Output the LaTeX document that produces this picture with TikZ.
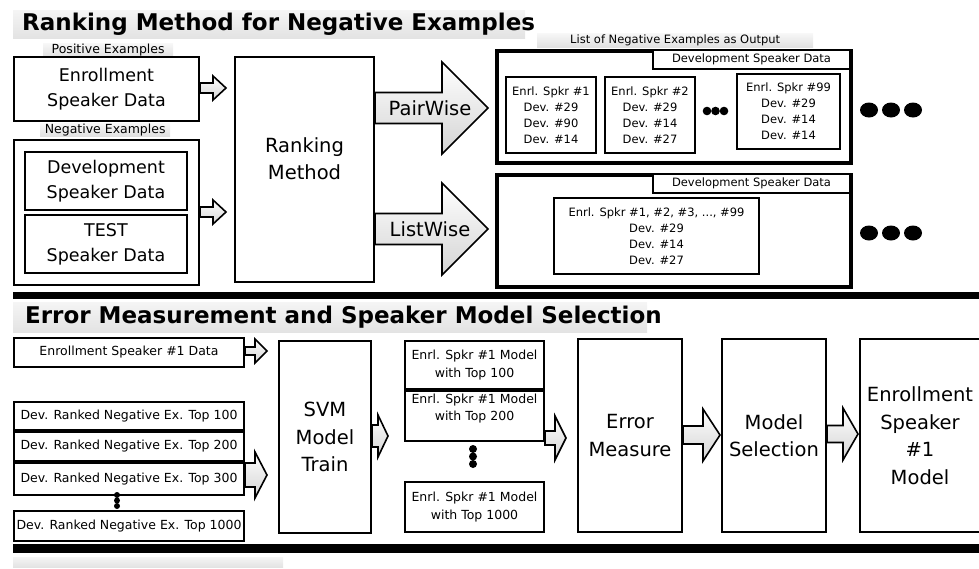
\documentclass[tikz,border=0pt]{standalone}
\usepackage{fontspec}
\setmainfont{DejaVu Sans}
\usetikzlibrary{calc,positioning}

\newcommand{\fTitle}{\fontsize{23}{28}\selectfont\bfseries}
\newcommand{\fBig}{\fontsize{19.5}{27.5}\selectfont}
\newcommand{\fMid}{\fontsize{17.5}{25}\selectfont}
\newcommand{\fLab}{\fontsize{12.5}{17.5}\selectfont}
\newcommand{\fSmall}{\fontsize{11.5}{16}\selectfont}

% block arrow: from, to, y, shaft half, head half, head length, gap before target
\newcommand{\fatarrow}[7]{%
  \path[fatarrow] let \p1=(#1.east), \p2=(#2.west), \p3=(0,#3) in
    (\x1,{\y3+#4pt}) -- ({\x2-#7pt-#6pt},{\y3+#4pt}) -- ({\x2-#7pt-#6pt},{\y3+#5pt})
    -- ({\x2-#7pt},\y3) -- ({\x2-#7pt-#6pt},{\y3-#5pt}) -- ({\x2-#7pt-#6pt},{\y3-#4pt})
    -- (\x1,{\y3-#4pt}) -- cycle;}

\begin{document}
\begin{tikzpicture}[x=1pt, y=-1pt, line join=miter]
    \tikzstyle{box}=[draw, line width=2pt, inner sep=0pt, align=center, anchor=north west]
    \tikzstyle{thickbox}=[box, line width=3.5pt]
    \tikzstyle{tag}=[anchor=north west, inner sep=0pt, top color=black!3, bottom color=black!12, font=\fLab]
    \tikzstyle{tab}=[box, fill=white, font=\fSmall]
    \tikzstyle{bandshade}=[top color=black!4, bottom color=black!11]
    \tikzstyle{fatarrow}=[draw, line width=1.6pt, top color=white, bottom color=black!17]
    \useasboundingbox (0,0) rectangle (979,568);

    % ranking part
    \shade[bandshade] (13,10) rectangle (525,38);
    \node[anchor=west, inner sep=0pt, font=\fTitle] (title1) at (22,24) {Ranking Method for Negative Examples};

    \node[tag, minimum width=130, minimum height=14] (posTag) at (43,43) {Positive Examples};
    \node[box, minimum width=185, minimum height=64, font=\fMid] (enroll) at (13,56) {Enrollment\\Speaker Data};
    \node[tag, minimum width=130, minimum height=13] (negTag) at (40,123) {Negative Examples};
    \node[box, minimum width=185, minimum height=145] (neg) at (13,139) {};
    \node[box, minimum width=162, minimum height=58, font=\fMid] (dev) at (24,151) {Development\\Speaker Data};
    \node[box, minimum width=162, minimum height=58, font=\fMid] (test) at (24,214) {TEST\\Speaker Data};
    \node[box, minimum width=139, minimum height=225] (rank) at (234,56) {};
    \node[font=\fBig, align=center] (rankText) at ($(rank.center)+(0,-11)$) {Ranking\\Method};

    \node[tag, minimum width=276, minimum height=14, font=\fSmall] (outTag) at (537,33) {List of Negative Examples as Output};
    \node[thickbox, minimum width=354, minimum height=112] (pairOut) at (495,49) {};
    \node[tab, minimum width=197, minimum height=19] (pairTab) at (652,49) {Development Speaker Data};
    \node[box, minimum width=90, minimum height=76, font=\fSmall] (spk1) at (505,76) {Enrl. Spkr \#1\\Dev. \#29\\Dev. \#90\\Dev. \#14};
    \node[box, minimum width=90, minimum height=76, font=\fSmall] (spk2) at (604,76) {Enrl. Spkr \#2\\Dev. \#29\\Dev. \#14\\Dev. \#27};
    \node[box, minimum width=103, minimum height=75, font=\fSmall] (spk99) at (736,73) {Enrl. Spkr \#99\\Dev. \#29\\Dev. \#14\\Dev. \#14};
    \foreach \x in {707,715.5,724} \fill (\x,111) circle (4.3);
    \foreach \x in {869,891,913} \fill (\x,110) ellipse (9 and 7.5);

    \node[thickbox, minimum width=354, minimum height=112] (listOut) at (495,173) {};
    \node[tab, minimum width=197, minimum height=19] (listTab) at (652,173) {Development Speaker Data};
    \node[box, minimum width=205, minimum height=76, font=\fSmall] (spkAll) at (553,197) {Enrl. Spkr \#1, \#2, \#3, ..., \#99\\Dev. \#29\\Dev. \#14\\Dev. \#27};
    \foreach \x in {869,891,913} \fill (\x,233) ellipse (9 and 7.5);

    \fatarrow{enroll}{rank}{88}{5}{12}{13}{8}
    \fatarrow{neg}{rank}{212}{5}{12}{13}{8}
    \fatarrow{rank}{pairOut}{108}{15.5}{46}{46}{7}
    \fatarrow{rank}{listOut}{229}{15.5}{46}{46}{7}
    \node[font=\fBig] (pairLbl) at (430,108) {PairWise};
    \node[font=\fBig] (listLbl) at (430,229) {ListWise};

    \fill (13,292) rectangle (979,299);

    % error measurement part
    \shade[bandshade] (13,302) rectangle (647,332);
    \node[anchor=west, inner sep=0pt, font=\fTitle] (title2) at (25,317) {Error Measurement and Speaker Model Selection};

    \node[box, minimum width=230, minimum height=29, font=\fLab] (enr1) at (13,337) {Enrollment Speaker \#1 Data};
    \node[box, minimum width=230, minimum height=28, font=\fLab] (top100) at (13,401) {Dev. Ranked Negative Ex. Top 100};
    \node[box, minimum width=230, minimum height=29, font=\fLab, below=0pt of top100] (top200) {Dev. Ranked Negative Ex. Top 200};
    \node[box, minimum width=230, minimum height=32, font=\fLab, below=0pt of top200] (top300) {Dev. Ranked Negative Ex. Top 300};
    \foreach \y in {495,500.5,506} \fill (117,\y) circle (3);
    \node[box, minimum width=230, minimum height=30, font=\fLab] (top1000) at (13,510) {Dev. Ranked Negative Ex. Top 1000};

    \node[box, minimum width=92, minimum height=192, font=\fBig] (svm) at (278,340) {SVM\\Model\\Train};
    \node[box, minimum width=139, minimum height=48, font=\fLab] (mod100) at (404,340) {Enrl. Spkr \#1 Model\\with Top 100};
    \node[box, minimum width=139, minimum height=50, below=0pt of mod100] (mod200) {};
    \node[font=\fLab, align=center, below=0pt of mod200.north] (mod200Text) {Enrl. Spkr \#1 Model\\with Top 200};
    \foreach \y in {449,456.5,464} \fill (473,\y) circle (4);
    \node[box, minimum width=139, minimum height=50, font=\fLab] (mod1000) at (404,481) {Enrl. Spkr \#1 Model\\with Top 1000};

    \node[box, minimum width=104, minimum height=193, font=\fBig] (errM) at (577,338) {Error\\Measure};
    \node[box, minimum width=104, minimum height=193, font=\fBig] (modSel) at (721,338) {Model\\Selection};
    \node[box, minimum width=120, minimum height=193, font=\fBig] (final) at (859,338) {Enrollment\\Speaker\\\#1\\Model};

    \fatarrow{enr1}{svm}{351}{4}{12}{12}{11}
    \fatarrow{top300}{svm}{475}{12}{23}{12}{11}
    \fatarrow{svm}{mod200}{436}{11}{21}{10}{16}
    \fatarrow{mod200}{errM}{438}{7}{22}{11}{11}
    \fatarrow{errM}{modSel}{435}{9}{26}{17}{1}
    \fatarrow{modSel}{final}{434}{8.5}{26}{15}{1}

    \fill (13,544) rectangle (979,553);
    \shade[bandshade] (13,557) rectangle (283,567);
\end{tikzpicture}
\end{document}
